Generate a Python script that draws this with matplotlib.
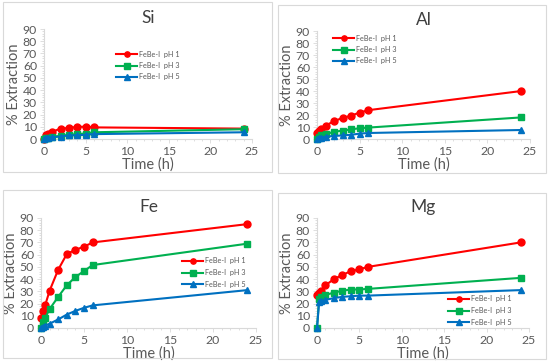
import matplotlib
matplotlib.use("Agg")
import matplotlib.pyplot as plt
from matplotlib.patches import Rectangle
from matplotlib.ticker import MultipleLocator

time_h = [0, 0.25, 0.5, 1, 2, 3, 4, 5, 6, 24]
series_labels = ["FeBe-I  pH 1", "FeBe-I  pH 3", "FeBe-I  pH 5"]

si_ph1 = [0, 3, 4.5, 6, 8.5, 9, 10, 10, 9.5, 8.5]
si_ph3 = [0, 0.5, 1, 2, 2.5, 3.5, 4, 4.5, 5.5, 8]
si_ph5 = [0, 0.5, 1, 1.5, 2, 3, 3, 3.5, 4, 5.5]

al_ph1 = [5, 7, 8, 11, 15, 17.5, 19.5, 22, 24, 40]
al_ph3 = [0, 2, 3, 4, 6, 7, 8, 9, 9.5, 18]
al_ph5 = [0, 0.5, 1, 2, 2.5, 3, 3.5, 4.5, 5, 7.5]

fe_ph1 = [8.5, 14, 19, 30.5, 47.7, 60.5, 64, 66.5, 70, 85]
fe_ph3 = [0, 5, 8.5, 15.5, 25.5, 35, 41.7, 46.6, 51.5, 69]
fe_ph5 = [0, 1, 2, 3.5, 7, 11, 14, 16.5, 18.5, 31]

mg_ph1 = [27, 29, 30.5, 35, 40, 43.5, 46.5, 48, 50, 70]
mg_ph3 = [0, 24, 25.5, 27, 29, 30.5, 31.5, 31.5, 32, 41]
mg_ph5 = [0, 21, 22, 23, 24.5, 25.5, 26, 26.5, 26.5, 31]

W, H = 550, 363
plt.rcParams['font.family'] = ['Lato', 'DejaVu Sans']
fig = plt.figure(figsize=(W / 100, H / 100), dpi=100)
fig.patch.set_facecolor("white")

colors = ["#FF0000", "#00B050", "#0070C0"]
markers = ["o", "s", "^"]
gray = "#595959"

# panel: title, data, frame box (x0,y0,x1,y1 px), axes box (left,top,right,bottom px), legend anchor (x px, y px of first row)
panels = [
    ("Si", [si_ph1, si_ph3, si_ph5], (3, 2, 272, 172), (44, 29, 252, 139), (116, 54)),
    ("Al", [al_ph1, al_ph3, al_ph5], (278, 5, 546, 173), (317, 31, 530, 139), (333, 38)),
    ("Fe", [fe_ph1, fe_ph3, fe_ph5], (3, 190, 272, 358), (41, 218, 256, 328), (182, 261)),
    ("Mg", [mg_ph1, mg_ph3, mg_ph5], (278, 193, 546, 359), (317, 218, 529, 328), (448, 299)),
]

for title, data, frame, box, leg in panels:
    fx0, fy0, fx1, fy1 = frame
    fig.patches.append(Rectangle((fx0 / W, 1 - fy1 / H), (fx1 - fx0) / W, (fy1 - fy0) / H,
                                 transform=fig.transFigure, fill=False,
                                 edgecolor="#D9D9D9", linewidth=0.8))
    l, t, r, b = box
    ax = fig.add_axes([l / W, 1 - b / H, (r - l) / W, (b - t) / H])
    for vals, c, m, lab in zip(data, colors, markers, series_labels):
        ax.plot(time_h, vals, color=c, marker=m, markersize=5, linewidth=1.5,
                label=lab, clip_on=False, zorder=3)
    ax.set_xlim(0, 25)
    ax.set_ylim(0, 90)
    ax.xaxis.set_major_locator(MultipleLocator(5))
    ax.yaxis.set_major_locator(MultipleLocator(10))
    ax.xaxis.set_minor_locator(MultipleLocator(1))
    ax.yaxis.set_minor_locator(MultipleLocator(2))
    for s in ["top", "right"]:
        ax.spines[s].set_visible(False)
    for s in ["left", "bottom"]:
        ax.spines[s].set_color("#D9D9D9")
        ax.spines[s].set_linewidth(0.8)
    ax.tick_params(which="both", colors="#D9D9D9", labelcolor=gray, labelsize=8.8,
                   direction="out", width=0.6)
    ax.tick_params(which="major", length=3, pad=2)
    ax.tick_params(which="minor", length=1.5)
    ax.set_xlabel("Time (h)", fontsize=10.5, color=gray, labelpad=0)
    ax.set_ylabel("% Extraction", fontsize=10.5, color=gray, labelpad=1)
    ax.set_title(title, fontsize=12.5, color="#404040", pad=4)
    ax.patch.set_alpha(0)
    # legend
    lx, ly = leg
    for i, (c, m, lab) in enumerate(zip(colors, markers, series_labels)):
        yy = 1 - (ly + i * 11.5) / H
        fig.add_artist(plt.Line2D([lx / W, (lx + 21) / W], [yy, yy], transform=fig.transFigure,
                                  color=c, linewidth=1.5))
        fig.add_artist(plt.Line2D([(lx + 10.5) / W], [yy], transform=fig.transFigure,
                                  color=c, marker=m, markersize=3.8, linestyle="none"))
        fig.text((lx + 23) / W, yy, lab, fontsize=5.2, color=gray, va="center", ha="left")

fig.savefig("out.png", dpi=100, facecolor="white")
